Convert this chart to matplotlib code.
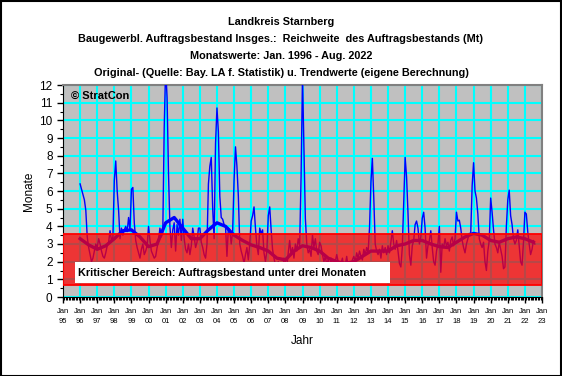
import matplotlib
matplotlib.use("Agg")
import numpy as np
import matplotlib.pyplot as plt
from matplotlib.patches import Rectangle
from matplotlib.ticker import MultipleLocator

plt.rcParams['font.family'] = ['Liberation Sans', 'DejaVu Sans']

# monthly values (Reichweite in Monaten), Jan 1996 - Aug 2022
v1996 = [6.4, 6.1, 5.8, 5.5, 4.9, 3.4, 2.8, 2.4, 2.0, 2.2, 2.6, 3.0]
v1997 = [2.8, 3.3, 3.0, 2.6, 2.3, 2.2, 2.5, 2.9, 3.1, 3.75, 3.2, 3.4]
v1998 = [6.6, 7.7, 6.0, 4.9, 3.3, 3.9, 3.5, 3.8, 4.0, 3.7, 4.5, 3.8]
v1999 = [6.1, 6.2, 4.2, 3.2, 2.8, 2.5, 2.2, 2.7, 3.0, 2.4, 2.6, 2.9]
v2000 = [4.0, 3.2, 2.6, 2.4, 2.2, 2.3, 2.8, 3.2, 3.9, 3.4, 3.7, 9.6]
v2001 = [13.0, 11.3, 7.0, 4.0, 2.8, 3.8, 4.2, 2.6, 4.1, 3.5, 4.4, 3.2]
v2002 = [4.4, 3.3, 2.7, 2.5, 3.0, 2.4, 2.9, 3.9, 3.4, 2.8, 3.1, 3.9]
v2003 = [3.9, 3.1, 2.8, 2.4, 2.2, 3.0, 6.4, 7.4, 7.9, 5.0, 3.3, 8.7]
v2004 = [10.7, 9.35, 5.7, 4.5, 4.4, 4.1, 4.0, 2.3, 3.9, 3.8, 3.0, 3.7]
v2005 = [6.6, 8.5, 7.4, 5.7, 3.0, 2.6, 2.3, 1.9, 2.4, 2.8, 2.1, 3.0]
v2006 = [4.3, 4.6, 5.1, 3.9, 2.9, 2.4, 3.9, 3.6, 3.8, 2.5, 2.0, 2.6]
v2007 = [4.6, 5.1, 3.8, 2.7, 2.2, 1.8, 1.6, 2.0, 1.5, 1.9, 1.4, 2.2]
v2008 = [2.0, 1.7, 2.5, 3.2, 2.4, 2.8, 2.2, 3.0, 2.6, 3.3, 2.9, 6.8]
v2009 = [12.5, 8.4, 4.45, 3.0, 2.5, 2.7, 2.3, 3.5, 2.8, 3.3, 2.6, 2.4]
v2010 = [3.1, 2.9, 2.4, 2.0, 2.3, 1.8, 2.1, 1.7, 2.2, 1.9, 1.5, 2.0]
v2011 = [2.4, 2.0, 1.7, 1.9, 2.2, 1.6, 1.8, 2.3, 1.7, 2.0, 1.6, 2.1]
v2012 = [2.3, 2.0, 2.5, 2.2, 2.6, 2.3, 2.1, 2.7, 2.4, 2.8, 2.5, 3.9]
v2013 = [6.5, 7.85, 5.6, 3.0, 2.6, 2.4, 2.7, 2.2, 2.9, 2.5, 2.8, 2.4]
v2014 = [2.9, 2.5, 3.1, 3.75, 3.0, 2.7, 3.2, 2.6, 1.9, 1.7, 2.8, 5.3]
v2015 = [7.9, 6.8, 4.75, 2.4, 1.8, 2.9, 3.2, 4.1, 4.3, 3.9, 3.0, 3.4]
v2016 = [4.45, 4.8, 3.9, 2.2, 2.9, 3.2, 3.75, 2.8, 2.0, 1.8, 2.6, 3.0]
v2017 = [4.0, 1.4, 3.0, 2.8, 3.3, 2.9, 3.1, 2.6, 3.2, 3.4, 2.9, 3.3]
v2018 = [4.8, 4.3, 4.35, 3.9, 3.2, 2.8, 2.5, 3.0, 3.3, 3.6, 3.6, 6.3]
v2019 = [7.6, 6.0, 5.6, 4.7, 3.3, 3.0, 2.8, 3.1, 2.0, 1.5, 2.6, 3.2]
v2020 = [5.6, 4.8, 3.8, 3.0, 2.8, 2.5, 3.1, 2.7, 2.3, 1.6, 1.7, 4.0]
v2021 = [5.5, 6.05, 4.6, 4.1, 3.3, 3.0, 3.2, 3.8, 2.9, 2.0, 1.8, 3.1]
v2022 = [4.8, 4.7, 3.7, 3.0, 2.4, 2.7, 3.2, 3.0]

orig = (v1996 + v1997 + v1998 + v1999 + v2000 + v2001 + v2002 + v2003 + v2004
        + v2005 + v2006 + v2007 + v2008 + v2009 + v2010 + v2011 + v2012 + v2013
        + v2014 + v2015 + v2016 + v2017 + v2018 + v2019 + v2020 + v2021 + v2022)

# trend, one value per half year starting Jan 1996
trend = [3.3, 2.95, 2.7, 2.9, 3.3, 3.75, 3.8, 3.4, 2.85, 3.0,
         4.2, 4.5, 3.9, 3.3, 3.3, 3.8, 4.2, 4.0, 3.5, 3.2,
         2.95, 2.8, 2.6, 2.2, 2.1, 2.6, 2.9, 2.8, 2.6, 2.2,
         2.0, 1.9, 2.0, 2.3, 2.6, 2.6, 2.6, 2.9, 3.0, 3.2,
         3.2, 3.0, 2.85, 2.8, 3.1, 3.4, 3.6, 3.5, 3.2, 3.1,
         3.3, 3.4, 3.3, 3.1]

years = list(range(1995, 2024))
year_labels = ["Jan\n%02d" % (y % 100) for y in years]

band_low = 0.68
band_high = 3.57

fig = plt.figure(figsize=(5.62, 3.76), dpi=100)
fig.patches.append(Rectangle((0.001, 0.001), 0.997, 0.996, transform=fig.transFigure,
                             fill=False, edgecolor='black', lw=1.5))
ax = fig.add_axes([63 / 562, 1 - 297 / 376, 479 / 562, 212 / 376])
ax.set_facecolor('#c0c0c0')

x_orig = 1996 + np.arange(len(orig)) / 12
x_trend = 1996 + 0.5 * np.arange(len(trend))
ax.plot(x_orig, orig, color='#0000ff', lw=1.0, zorder=3)
ax.plot(x_trend, trend, color='#0000ff', lw=2.4, zorder=3)

ax.add_patch(Rectangle((1995, band_low), 28, band_high - band_low,
                       facecolor='#ff0000', alpha=0.72, edgecolor='none', zorder=4))
ax.add_patch(Rectangle((1995, band_low), 28, band_high - band_low,
                       fill=False, edgecolor='#ff0000', lw=1.3, zorder=5))
ax.add_patch(Rectangle((1995.7, 0.79), 18.4, 1.19, facecolor='white',
                       edgecolor='none', zorder=6))
ax.text(1995.9, 1.38, "Kritischer Bereich: Auftragsbestand unter drei Monaten",
        fontsize=7.8, fontweight='bold', va='center', zorder=7)

ax.set_xlim(1995, 2023)
ax.set_ylim(0, 12)
ax.set_xticks(years)
ax.set_xticklabels(year_labels, fontsize=5.5, linespacing=1.6)
ax.xaxis.set_minor_locator(MultipleLocator(1 / 12))
ax.set_yticks(range(0, 13))
ax.yaxis.set_minor_locator(MultipleLocator(0.5))
ax.tick_params(axis='y', labelsize=8.5, length=4, width=1)
ax.tick_params(axis='x', length=4, width=1, pad=4)
ax.tick_params(which='minor', length=2, width=0.8)
ax.grid(True, which='major', color='#00ffff', lw=1.5, zorder=1)
ax.set_axisbelow(True)
for s in ['top', 'right']:
    ax.spines[s].set_color('#808080')
    ax.spines[s].set_linewidth(1.5)
for s in ['left', 'bottom']:
    ax.spines[s].set_color('black')

ax.set_ylabel("Monate", fontsize=8.5, labelpad=3)
ax.set_xlabel("Jahr", fontsize=8.5, labelpad=7)

ax.text(1995.45, 11.4, "\u00a9 StratCon", fontsize=8, fontweight='bold', va='center', zorder=7)

titles = ["Landkreis Starnberg",
          "Baugewerbl. Auftragsbestand Insges.:  Reichweite  des Auftragsbestands (Mt)",
          "Monatswerte: Jan. 1996 - Aug. 2022",
          "Original- (Quelle: Bay. LA f. Statistik) u. Trendwerte (eigene Berechnung)"]
for i, t in enumerate(titles):
    fig.text(0.5, 1 - (22 + 17 * i) / 376, t, ha='center', va='center',
             fontsize=7.8, fontweight='bold')

fig.savefig("out.png", dpi=100)
